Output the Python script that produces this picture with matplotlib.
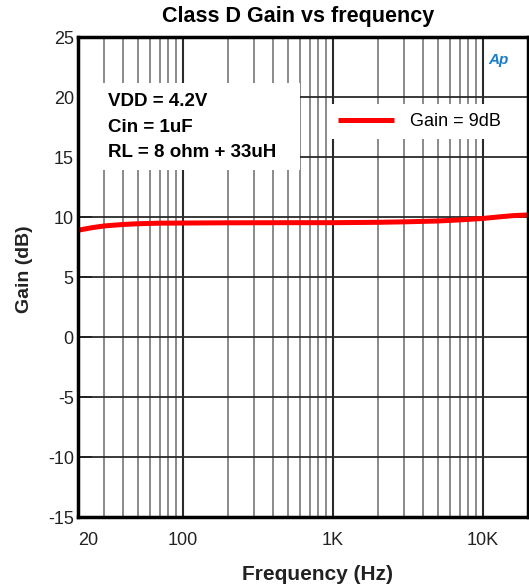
import numpy as np
import matplotlib.pyplot as plt
from matplotlib.patches import Rectangle
from matplotlib.ticker import FixedLocator, NullFormatter

plt.rcParams['font.family'] = ['Liberation Sans', 'DejaVu Sans']
plt.rcParams['axes.unicode_minus'] = False

# gain curve
freq = [20, 25, 30, 40, 50, 70, 100, 200, 500, 1000, 2000, 3000,
        5000, 7000, 10000, 13000, 16000, 20000]
gain = [8.9, 9.12, 9.26, 9.38, 9.44, 9.49, 9.5, 9.52, 9.53, 9.53,
        9.56, 9.6, 9.67, 9.76, 9.88, 10.02, 10.12, 10.17]
series_label = 'Gain = 9dB'
conditions = ['VDD = 4.2V', 'Cin = 1uF', 'RL = 8 ohm + 33uH']
xticks = [20, 100, 1000, 10000]
xtick_labels = ['20', '100', '1K', '10K']
yticks = [-15, -10, -5, 0, 5, 10, 15, 20, 25]

fig = plt.figure(figsize=(5.29, 5.88), dpi=100)
ax = fig.add_axes([0.1474, 0.1207, 0.8506, 0.8163])
ax.set_facecolor('white')

ax.set_xscale('log')
ax.set_xlim(20, 20000)
ax.set_ylim(-15, 25)

# grid: minor decades grey, majors dark
minors = [m * 10**d for d in range(1, 5) for m in range(2, 10)]
minors = [v for v in minors if 20 < v < 20000 and v not in (100, 1000, 10000)]
for v in minors:
    ax.axvline(v, color='#8a8a8a', lw=1.4, zorder=1)
for v in [100, 1000, 10000]:
    ax.axvline(v, color='#2a2a2a', lw=1.5, zorder=1)
for v in yticks[1:-1]:
    ax.axhline(v, color='#2a2a2a', lw=1.3, zorder=1)

ax.plot(freq, gain, color='#ff0000', lw=3.6, zorder=5, solid_capstyle='butt',
        label=series_label)

# white box with test conditions
ax.add_patch(Rectangle((20.3, 13.9), 600 - 20.3, 21.2 - 13.9, facecolor='white',
                       edgecolor='none', zorder=3))
for i, s in enumerate(conditions):
    ax.text(31.5, 19.6 - 2.1 * i, s, fontsize=13.5, fontweight='bold',
            va='center', ha='left', zorder=4)

leg = ax.legend(loc='upper right', bbox_to_anchor=(0.96, 0.86), frameon=True,
                fancybox=False, framealpha=1, edgecolor='none',
                facecolor='white', fontsize=13, handlelength=3.1,
                handletextpad=0.9, borderpad=0.5, borderaxespad=0)
leg.set_zorder(6)

ax.xaxis.set_major_locator(FixedLocator(xticks))
ax.set_xticklabels(xtick_labels)
ax.get_xticklabels()[0].set_horizontalalignment('left')
ax.xaxis.set_minor_formatter(NullFormatter())
ax.tick_params(axis='x', which='both', length=0, pad=11, labelsize=13,
               colors='#222222')
ax.set_yticks(yticks)
ax.tick_params(axis='y', length=10, width=1.3, direction='in', pad=3,
               labelsize=13, colors='#222222')

for sp in ax.spines.values():
    sp.set_linewidth(2.5)
    sp.set_color('black')
    sp.set_zorder(7)

ax.set_title('Class D Gain vs frequency', fontsize=15.5, fontweight='bold',
             pad=11, x=0.49)
ax.set_xlabel('Frequency (Hz)', fontsize=15, fontweight='bold', labelpad=8,
              color='#222222')
ax.xaxis.set_label_coords(0.533, -0.1)
ax.set_ylabel('Gain (dB)', fontsize=14, fontweight='bold', labelpad=8,
              color='#222222')
ax.yaxis.set_label_coords(-0.1, 0.517)

# Ap logo
ax.text(0.935, 0.953, 'Ap', transform=ax.transAxes, color='#1a7fc8',
        fontsize=11, style='italic', fontweight='bold', ha='center',
        va='center', zorder=8)

fig.savefig('out.png', dpi=100)
